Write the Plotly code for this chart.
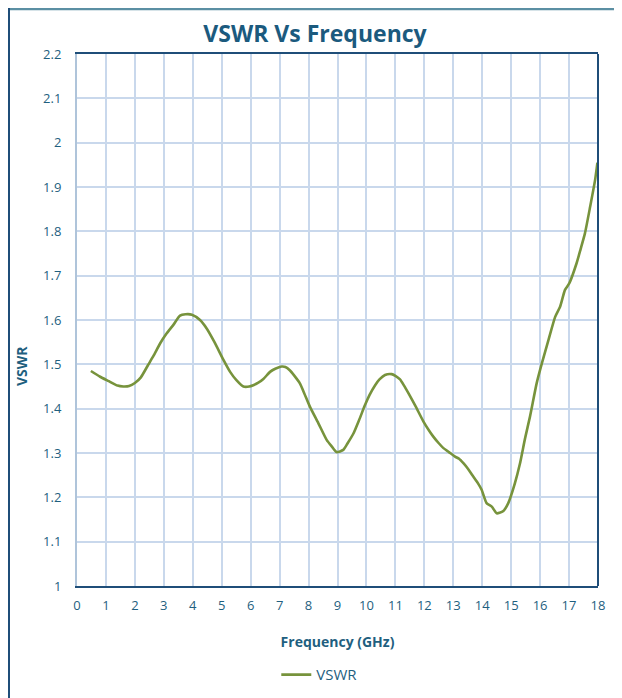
import plotly.graph_objects as go

freq = [0.48, 0.8, 1.1, 1.4, 1.6, 1.8, 2.0, 2.2, 2.46, 2.65, 2.87, 3.1, 3.33, 3.56, 3.75, 3.97, 4.25, 4.48, 4.75,
        5.06, 5.29, 5.5, 5.75, 5.95, 6.09, 6.25, 6.44, 6.67, 6.85, 7.07, 7.2, 7.36, 7.5, 7.7, 7.85, 8.05, 8.34,
        8.63, 8.8, 8.97, 9.2, 9.35, 9.55, 9.75, 9.95, 10.1, 10.3, 10.45, 10.64, 10.87, 11.0, 11.16, 11.3, 11.45,
        11.7, 11.97, 12.15, 12.31, 12.5, 12.66, 12.85, 13.06, 13.2, 13.35, 13.5, 13.69, 13.85, 13.98, 14.15,
        14.33, 14.5, 14.6, 14.73, 14.9, 15.13, 15.3, 15.48, 15.65, 15.88, 16.06, 16.29, 16.52, 16.69, 16.86,
        17.01, 17.26, 17.4, 17.55, 17.73, 17.9, 17.98]
vswr = [1.485, 1.472, 1.462, 1.452, 1.450, 1.451, 1.458, 1.470, 1.499, 1.520, 1.547, 1.570, 1.589, 1.610,
        1.613, 1.612, 1.600, 1.581, 1.550, 1.510, 1.483, 1.465, 1.450, 1.450, 1.453, 1.458, 1.467, 1.483,
        1.490, 1.495, 1.494, 1.486, 1.475, 1.457, 1.435, 1.404, 1.367, 1.329, 1.315, 1.302, 1.307, 1.322,
        1.344, 1.375, 1.408, 1.430, 1.453, 1.466, 1.476, 1.478, 1.474, 1.466, 1.452, 1.435, 1.405, 1.371,
        1.352, 1.337, 1.322, 1.311, 1.302, 1.292, 1.287, 1.277, 1.265, 1.247, 1.232, 1.217, 1.187, 1.179,
        1.164, 1.165, 1.169, 1.187, 1.232, 1.275, 1.333, 1.382, 1.457, 1.502, 1.555, 1.607, 1.630, 1.668,
        1.683, 1.728, 1.760, 1.796, 1.856, 1.916, 1.955]

x_ticks = list(range(0, 19))
y_ticks = [1.0, 1.1, 1.2, 1.3, 1.4, 1.5, 1.6, 1.7, 1.8, 1.9, 2.0, 2.1, 2.2]
y_labels = ["1", "1.1", "1.2", "1.3", "1.4", "1.5", "1.6", "1.7", "1.8", "1.9", "2", "2.1", "2.2"]

text_col = "#1F5F7F"
axis_col = "#1F4E79"
grid_col = "#C9D8EC"
font_fam = "Open Sans, Noto Sans, sans-serif"

fig = go.Figure()
fig.add_trace(go.Scatter(x=freq, y=vswr, mode="lines", name="VSWR",
                         line=dict(color="#77933C", width=2.6, shape="spline", smoothing=0.6)))

fig.update_layout(
    width=614, height=690,
    margin=dict(l=69, r=24, t=46, b=112, autoexpand=False),
    paper_bgcolor="white", plot_bgcolor="white",
    font=dict(family=font_fam, color=text_col, size=12),
    title=dict(text="<b>VSWR Vs Frequency</b>", x=0.5, xanchor="center", y=0.962, yanchor="middle",
               font=dict(size=23, color="#1B5A7E", family=font_fam)),
    showlegend=True,
    legend=dict(orientation="h", x=0.466, xanchor="center", y=-0.167, yanchor="middle",
                font=dict(size=15, color=text_col), itemwidth=30),
    xaxis=dict(range=[0, 18], tickvals=x_ticks, showgrid=True, gridcolor=grid_col, gridwidth=1.5,
               showline=True, linecolor=axis_col, linewidth=2, mirror=True, zeroline=False,
               automargin=False,
               ticks="", tickfont=dict(size=13, color=text_col), ticklabelstandoff=6,
               title=dict(text="<b>Frequency (GHz)</b>", font=dict(size=14, color=text_col), standoff=25)),
    yaxis=dict(range=[1, 2.2], tickvals=y_ticks, ticktext=y_labels, showgrid=True, gridcolor=grid_col,
               gridwidth=1.5, showline=True, linecolor="#AFC4DA", linewidth=2, mirror=False, zeroline=False,
               automargin=False,
               ticks="", tickfont=dict(size=13, color=text_col), ticklabelstandoff=11),
    annotations=[dict(text="<b>VSWR</b>", xref="paper", yref="paper", x=-0.107, y=0.414,
                      xanchor="center", yanchor="middle", textangle=-90, showarrow=False,
                      font=dict(size=14, color=text_col))],
    shapes=[
        dict(type="line", xref="paper", yref="paper", x0=1, x1=1, y0=0, y1=1,
             line=dict(color=axis_col, width=2)),
        dict(type="line", xref="paper", yref="paper", x0=-0.131, x1=1.1, y0=1.0846, y1=1.0846,
             line=dict(color="#5B8FA3", width=2.5)),
        dict(type="line", xref="paper", yref="paper", x0=-0.131, x1=-0.131, y0=-0.3, y1=1.0865,
             line=dict(color=axis_col, width=2.5)),
    ],
)

fig.write_html("out.html")
